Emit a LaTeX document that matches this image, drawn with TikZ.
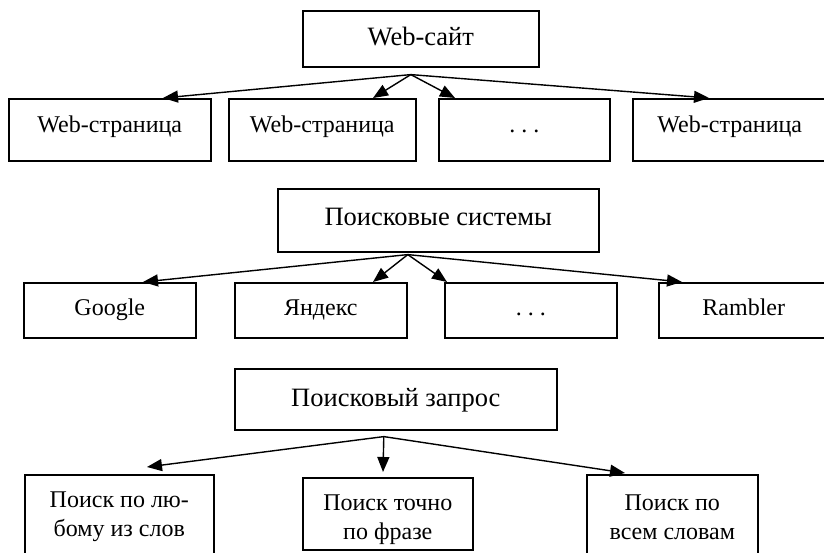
\documentclass[tikz,border=0pt]{standalone}
\usepackage{fontspec}
\setmainfont{Liberation Serif}
\usetikzlibrary{arrows.meta,calc}
\begin{document}
\begin{tikzpicture}[x=1pt,y=-1pt,
  box/.style={draw,line width=1.6pt,inner sep=0pt,anchor=north west,
    font=\fontsize{24}{29}\selectfont,align=center},
  head/.style={box,font=\fontsize{26.5}{31}\selectfont},
  th/.style={text depth=0pt,text height=#1},
  arr/.style={line width=1.4pt,-{Triangle[length=15pt,width=12pt]}}]
\useasboundingbox (0,0) rectangle (824,553);
% group 1
\node[head,th=14pt,minimum width=236pt,minimum height=56pt] (site) at (302,10) {Web-сайт};
\node[box,th=5pt,minimum width=202pt,minimum height=62pt] (p1) at (8,98) {Web-страница};
\node[box,th=5pt,minimum width=187pt,minimum height=62pt] (p2) at (228,98) {Web-страница};
\node[box,th=5pt,minimum width=171pt,minimum height=62pt] (p3) at (438,98) {.\ .\ .};
\node[box,th=5pt,minimum width=194pt,minimum height=62pt] (p4) at (632,98) {Web-страница};
\coordinate (s1) at ([xshift=-10pt,yshift=-7pt]site.south);
\draw[arr] (s1) -- ([xshift=155pt]p1.north west);
\draw[arr] (s1) -- ([xshift=145pt]p2.north west);
\draw[arr] (s1) -- ([xshift=17pt]p3.north west);
\draw[arr] (s1) -- ([xshift=77pt]p4.north west);
% group 2
\node[head,th=10pt,minimum width=321pt,minimum height=63pt] (ps) at (277,188) {Поисковые системы};
\node[box,th=11pt,minimum width=172pt,minimum height=55pt] (g) at (23,282) {Google};
\node[box,th=11pt,minimum width=172pt,minimum height=55pt] (y) at (234,282) {Яндекс};
\node[box,th=11pt,minimum width=172pt,minimum height=55pt] (d) at (444,282) {.\ .\ .};
\node[box,th=11pt,minimum width=170pt,minimum height=55pt] (r) at (658,282) {Rambler};
\coordinate (s2) at ([xshift=-30.5pt,yshift=-2pt]ps.south);
\draw[arr] (s2) -- ([xshift=120pt]g.north west);
\draw[arr] (s2) -- ([xshift=139pt]y.north west);
\draw[arr] (s2) -- ([xshift=3pt]d.north west);
\draw[arr] (s2) -- ([xshift=24pt]r.north west);
% group 3
\node[head,th=14pt,minimum width=322pt,minimum height=61pt] (q) at (234,368) {Поисковый запрос};
\node[box,minimum width=189pt,minimum height=84pt] (c1) at (24,474) {Поиск по лю-\\бому из слов};
\node[box,minimum width=170pt,minimum height=72pt] (c2) at (302,477)
  {\raisebox{-5pt}[\height][\depth]{\begin{tabular}{@{}c@{}}Поиск точно\\по фразе\end{tabular}}};
\node[box,minimum width=171pt,minimum height=84pt] (c3) at (586,474) {Поиск по\\всем словам};
\coordinate (s3) at ([xshift=-12pt,yshift=-6pt]q.south);
\draw[arr] (s3) -- ([xshift=123pt,yshift=7pt]c1.north west);
\draw[arr] (s3) -- ([xshift=81pt,yshift=5pt]c2.north west);
\draw[arr] (s3) -- ([xshift=39pt,yshift=1pt]c3.north west);
\end{tikzpicture}
\end{document}
